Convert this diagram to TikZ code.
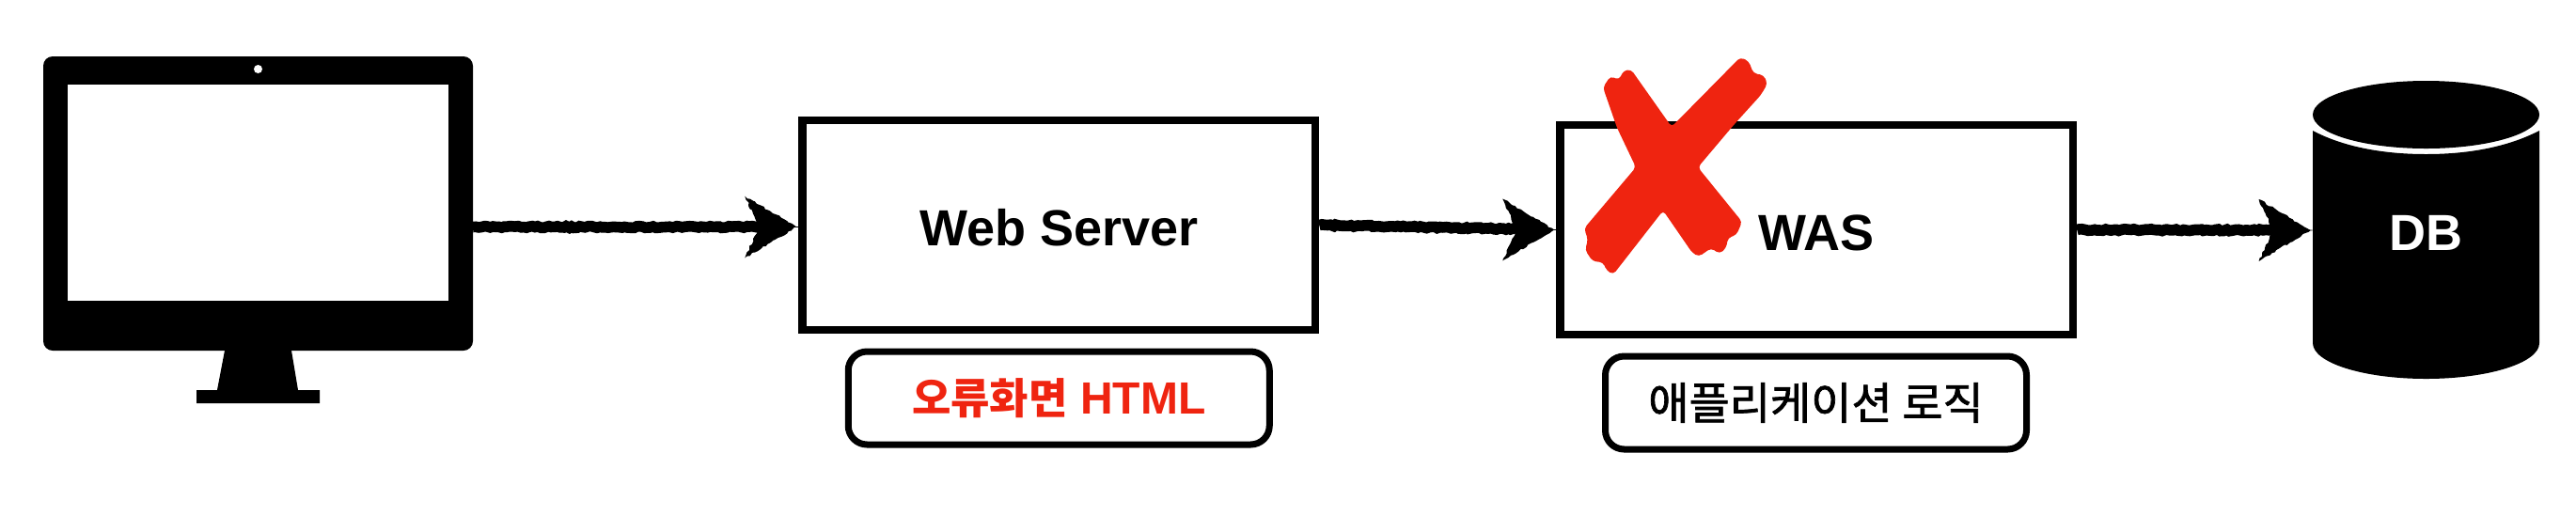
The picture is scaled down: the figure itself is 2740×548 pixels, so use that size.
\documentclass[tikz,border=0pt]{standalone}
\usepackage{fontspec}
\setmainfont{Liberation Sans}
\newfontfamily\krfont[FakeBold=1.5]{Noto Sans CJK KR}
\newfontfamily\krbold{Noto Sans CJK KR}
\usetikzlibrary{decorations.pathmorphing,decorations.markings,shapes.geometric}
\definecolor{xred}{HTML}{EF2410}
\tikzset{
  box/.style={draw=black,line width=4.25pt,minimum width=272.75pt,minimum height=111.5pt,
    text height=21.7pt,text depth=0pt,font=\fontsize{27}{30}\selectfont\bfseries},
  pill/.style={draw=black,line width=3.5pt,rounded corners=10pt,minimum width=224pt,minimum height=49.5pt},
  solid/.style={fill=black,inner sep=0pt,outer sep=0pt},
  sketchhead/.pic={
    \fill[line join=round,decorate,decoration={random steps,segment length=1.6pt,amplitude=.5pt}]
      (-57,-33) -- (-2,0) -- (-57,33) -- (-42,0) -- cycle;
  },
  sketch/.style={
    preaction={draw,line width=5.8pt,shorten >=14pt,decorate,
      decoration={random steps,segment length=1.5pt,amplitude=.45pt,post length=16pt}},
    postaction={decorate,decoration={markings,mark=at position 1 with {\pic {sketchhead};}}}
  }
}
\pgfmathsetseed{7}
\begin{document}
\begin{tikzpicture}[x=0.5pt,y=-0.5pt]
        \useasboundingbox (0,0) rectangle (2740,548);

        % client
        \fill (239,373) -- (231,415) -- (209,415) -- (209,429) -- (340,429) -- (340,415) -- (317,415) -- (310,373) -- cycle;
        \node[solid,rounded corners=5pt,minimum width=228.5pt,minimum height=156.5pt] (monitor) at (274.5,216.5) {};
        \node[fill=white,inner sep=0pt,minimum width=202.5pt,minimum height=115pt] (screen) at (274.5,205) {};
        \node[ellipse,fill=white,inner sep=0pt,minimum width=4.5pt,minimum height=4.5pt] (cam) at (274.5,73.5) {};

        \node[box] (web) at (1126.25,239.5) {Web Server};
        \node[pill] (weblabel) at (1126.25,423.5)
          {\fontsize{24}{28}\selectfont\color{xred}\bfseries{\krbold\fontsize{22.5}{28}\selectfont 오류화면} HTML};

        \node[box] (was) at (1932.25,244.5) {WAS};
        \node[pill] (waslabel) at (1931.5,428.5) {\krfont\fontsize{23.5}{28}\selectfont 애플리케이션 로직};

        % db
        \fill (2460,139) -- (2460,365) .. controls (2460,386) and (2514,403) .. (2580.5,403)
          .. controls (2647,403) and (2701,386) .. (2701,365) -- (2701,139)
          .. controls (2670,155) and (2630,164) .. (2580.5,164)
          .. controls (2531,164) and (2490,155) .. (2460,139) -- cycle;
        \node[solid,ellipse,minimum width=120.5pt,minimum height=36pt] (dbtop) at (2580.5,122) {};
        \node[text=white,inner sep=0pt,minimum width=120.5pt,text height=21.7pt,text depth=0pt,
          font=\fontsize{27}{30}\selectfont\bfseries] (db) at (2580.5,245) {DB};

        \fill[xred,rounded corners=2pt] (1705,93) -- (1713,81) -- (1722,85) -- (1727,75) -- (1735,74) -- (1742,84)
          -- (1778,135) -- (1851,61) -- (1860,65) -- (1865,78) -- (1876,80) -- (1880,89) -- (1873,101)
          -- (1844,133) -- (1806,178) -- (1853,236) -- (1847,250) -- (1838,253) -- (1836,264) -- (1829,270)
          -- (1820,264) -- (1807,273) -- (1800,269) -- (1769,224) -- (1716,292) -- (1709,288) -- (1705,279)
          -- (1694,278) -- (1686,266) -- (1689,255) -- (1685,243) -- (1740,178) -- (1720,136) -- cycle;

        \draw[sketch] ([yshift=-1pt]monitor.east |- web.west) -- ([yshift=-1pt]web.west);
        \draw[sketch] (web.east) -- (was.west);
        \draw[sketch] (was.east) -- (db.west);
      \end{tikzpicture}
\end{document}
